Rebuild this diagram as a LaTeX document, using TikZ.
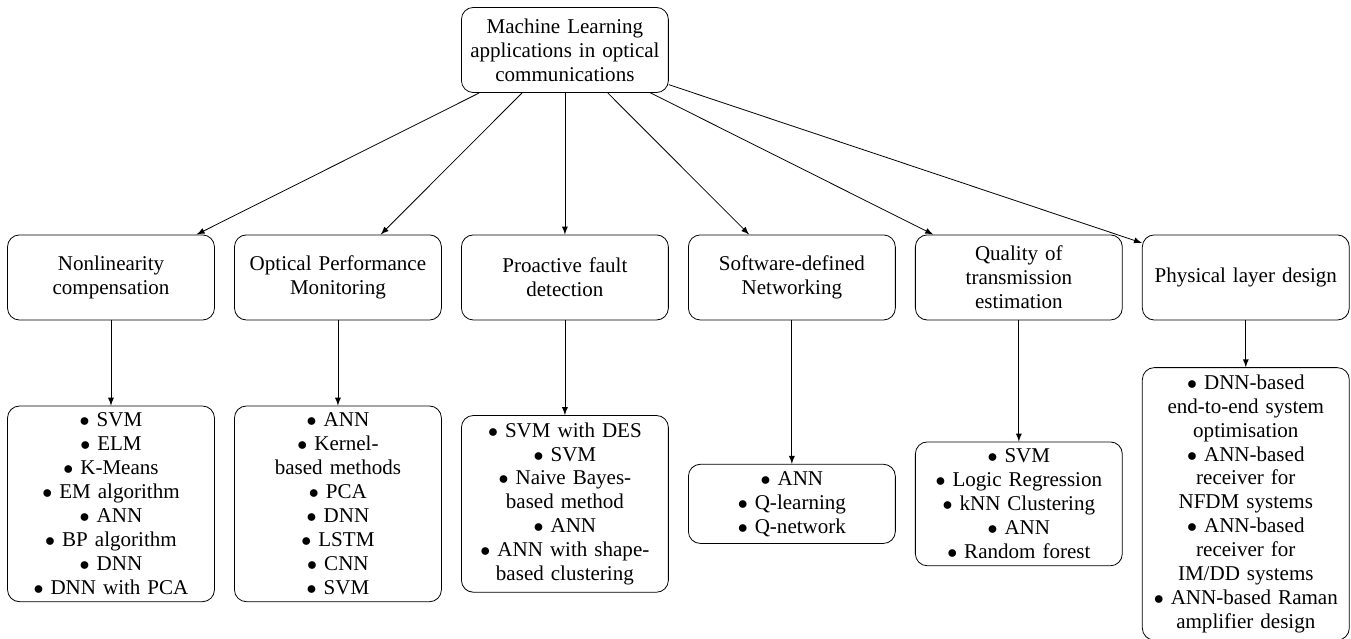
\documentclass[tikz,border=0pt]{standalone}
\usepackage{fontspec}
\setmainfont{Liberation Serif}[Scale=1.055]
\usetikzlibrary{arrows,positioning}

\begin{document}
\begin{tikzpicture}[
font=\normalfont,
block/.style={draw,rounded corners=6pt,align=center,text width=3.4cm,minimum height=1.5cm},
leaf/.style={draw,rounded corners=6pt,align=center,text width=3.4cm},
link/.style={->,>=latex}
]
    \useasboundingbox (0,0) rectangle (23.81,-11.26);

    % Root
    \node[block] (ml) at (9.956,-0.881) {Machine Learning\\applications in optical\\communications};

    % Application areas
    \node[block] (nlc) at (1.956,-4.89) {Nonlinearity\\compensation};
    \node[block] (opm) at (5.956,-4.89) {Optical Performance\\Monitoring};
    \node[block] (pfd) at (9.956,-4.89) {Proactive fault\\detection};
    \node[block] (sdn) at (13.956,-4.89) {Software-defined\\Networking};
    \node[block] (qot) at (17.956,-4.89) {Quality of\\transmission\\estimation};
    \node[block] (phy) at (21.956,-4.89) {Physical layer design};

    % Methods
    \node[leaf] (nlcm) at (1.956,-8.88) {$\bullet$ SVM\\$\bullet$ ELM\\$\bullet$ K-Means\\$\bullet$ EM algorithm\\$\bullet$ ANN\\$\bullet$ BP algorithm\\$\bullet$ DNN\\$\bullet$ DNN with PCA};
    \node[leaf] (opmm) at (5.956,-8.88) {$\bullet$ ANN\\$\bullet$ Kernel-\\based methods\\$\bullet$ PCA\\$\bullet$ DNN\\$\bullet$ LSTM\\$\bullet$ CNN\\$\bullet$ SVM};
    \node[leaf] (pfdm) at (9.956,-8.88) {$\bullet$ SVM with DES\\$\bullet$ SVM\\$\bullet$ Naive Bayes-\\based method\\$\bullet$ ANN\\$\bullet$ ANN with shape-\\based clustering};
    \node[leaf] (sdnm) at (13.956,-8.88) {$\bullet$ ANN\\$\bullet$ Q-learning\\$\bullet$ Q-network};
    \node[leaf] (qotm) at (17.956,-8.88) {$\bullet$ SVM\\$\bullet$ Logic Regression\\$\bullet$ kNN Clustering\\$\bullet$ ANN\\$\bullet$ Random forest};
    \node[leaf] (phym) at (21.956,-8.88) {$\bullet$ DNN-based\\end-to-end system\\optimisation\\$\bullet$ ANN-based\\receiver for\\NFDM systems\\$\bullet$ ANN-based\\receiver for\\IM/DD systems\\$\bullet$ ANN-based Raman\\amplifier design};

    % Arrows
    \draw[link] (ml) -- (nlc);
    \draw[link] (ml) -- (opm);
    \draw[link] (ml) -- (pfd);
    \draw[link] (ml) -- (sdn);
    \draw[link] (ml) -- (qot);
    \draw[link] (ml) -- (phy);

    \draw[link] (nlc) -- (nlcm);
    \draw[link] (opm) -- (opmm);
    \draw[link] (pfd) -- (pfdm);
    \draw[link] (sdn) -- (sdnm);
    \draw[link] (qot) -- (qotm);
    \draw[link] (phy) -- (phym);

\end{tikzpicture}
\end{document}
